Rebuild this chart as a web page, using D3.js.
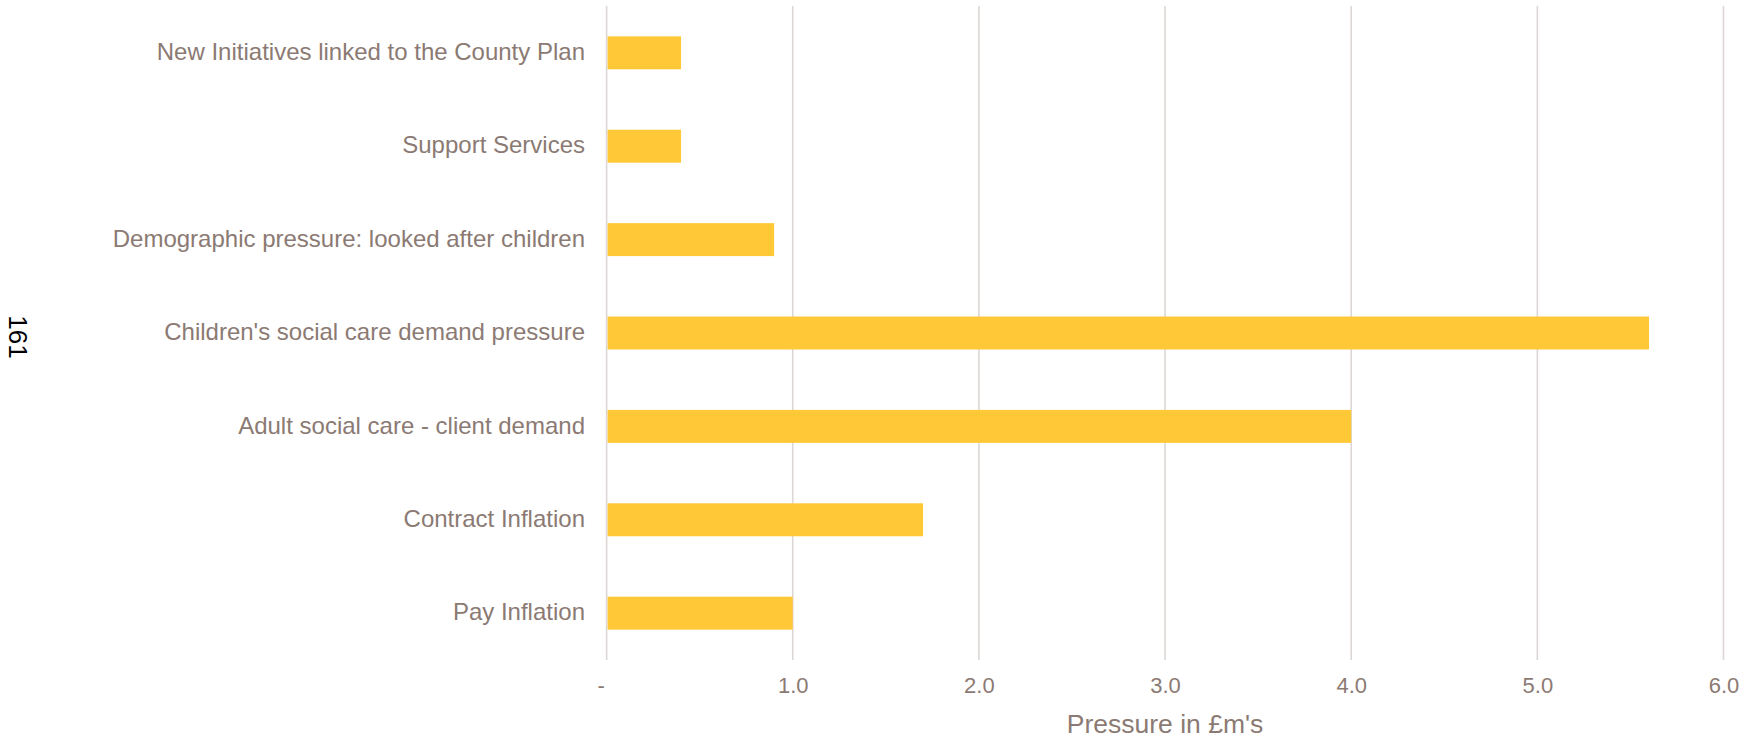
<!DOCTYPE html>
<html>
<head>
<meta charset="utf-8">
<script src="https://cdn.jsdelivr.net/npm/d3@7"></script>
<style>
  body { margin: 0; background: #fff; }
  svg { display: block; font-family: "Liberation Sans", Arial, sans-serif; }
</style>
</head>
<body>
<svg id="chart" width="1758" height="739"></svg>
<script>
// categories top to bottom, pressure in £m
const categories = [
  'New Initiatives linked to the County Plan',
  'Support Services',
  'Demographic pressure: looked after children',
  "Children's social care demand pressure",
  'Adult social care - client demand',
  'Contract Inflation',
  'Pay Inflation'
];
const pressure = [0.4, 0.4, 0.9, 5.6, 4.0, 1.7, 1.0];
const tickValues = [0, 1, 2, 3, 4, 5, 6];
const tickLabels = ['-', '1.0', '2.0', '3.0', '4.0', '5.0', '6.0'];
const axisTitle = "Pressure in £m's";
const pageNumber = '161';

const textColor = '#8b7a73';
const gridColor = '#dcd7d5';
const barColor = '#ffc837';

var svg = d3.select('#chart');

var x = d3.scaleLinear().domain([0, 6]).range([606.6, 1723.5]);
var y = d3.scaleBand()
  .domain(categories)
  .range([6, 660])
  .paddingInner(0.647)
  .paddingOuter(0.325);

// vertical gridlines
svg.append('g')
  .attr('class', 'grid')
  .selectAll('line')
  .data(tickValues)
  .enter()
  .append('line')
  .attr('x1', d => x(d))
  .attr('x2', d => x(d))
  .attr('y1', 6)
  .attr('y2', 660)
  .attr('stroke', gridColor)
  .attr('stroke-width', 1.6);

// bars
svg.append('g')
  .selectAll('rect')
  .data(categories)
  .enter()
  .append('rect')
  .attr('x', x(0) + 1)
  .attr('y', d => y(d))
  .attr('height', y.bandwidth())
  .attr('width', (d, i) => x(pressure[i]) - x(0) - 1)
  .attr('fill', barColor);

// category labels
svg.append('g')
  .selectAll('text')
  .data(categories)
  .enter()
  .append('text')
  .attr('x', 585)
  .attr('y', d => y(d) + y.bandwidth() / 2)
  .attr('dy', '0.3em')
  .attr('text-anchor', 'end')
  .attr('font-size', 24)
  .attr('fill', textColor)
  .text(d => d);

// x axis tick labels
var xAxis = d3.axisBottom(x)
  .tickValues(tickValues)
  .tickSize(0)
  .tickPadding(0)
  .tickFormat((d, i) => tickLabels[i]);

var ax = svg.append('g')
  .attr('transform', 'translate(0,693)')
  .call(xAxis);
ax.select('.domain').remove();
ax.selectAll('text')
  .attr('y', 0)
  .attr('dy', 0)
  .attr('font-size', 22)
  .attr('font-family', '"Liberation Sans", Arial, sans-serif')
  .attr('fill', textColor)
  .attr('dx', (d, i) => i === 0 ? -6 : 0);

// axis title
svg.append('text')
  .attr('x', (x(0) + x(6)) / 2)
  .attr('y', 733)
  .attr('text-anchor', 'middle')
  .attr('font-size', 26.5)
  .attr('fill', textColor)
  .text(axisTitle);

// page number, rotated
svg.append('text')
  .attr('transform', 'translate(18,337) rotate(90)')
  .attr('text-anchor', 'middle')
  .attr('dy', '0.35em')
  .attr('font-size', 26)
  .attr('fill', '#000')
  .text(pageNumber);
</script>
</body>
</html>
